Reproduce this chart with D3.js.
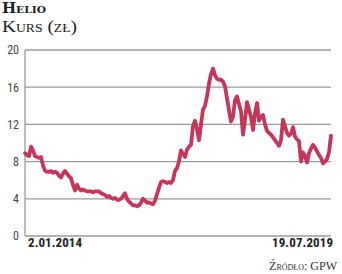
<!DOCTYPE html>
<html><head><meta charset="utf-8">
<script src="https://cdn.jsdelivr.net/npm/d3@7"></script>
<style>body{margin:0;background:#fff}svg{display:block}</style>
</head><body>
<script>
const title = "Helio";
const subtitle = "Kurs (zł)";
const source = "Źródło: GPW";
const startLabel = "2.01.2014";
const endLabel = "19.07.2019";
const yTicks = [0, 4, 8, 12, 16, 20];
const prices = [
8.9,8.7,8.6,9.6,9.2,8.6,8.5,8.4,8.5,7.6,7.0,6.9,6.9,7.0,6.8,6.9,6.8,6.5,6.3,6.7,
7.0,6.7,6.4,6.2,5.5,4.9,5.5,5.1,4.9,5.0,4.9,4.8,4.8,4.8,4.7,4.8,4.8,4.8,4.6,4.5,
4.4,4.2,4.3,4.1,4.0,4.1,3.9,3.9,4.0,4.3,4.6,4.0,3.7,3.5,3.3,3.3,3.2,3.3,3.6,4.0,
3.8,3.6,3.6,3.5,3.4,3.8,4.5,5.2,5.8,5.9,5.8,5.7,5.8,5.7,6.0,7.0,7.3,8.0,9.2,8.8,
8.5,9.3,9.6,9.8,11.8,12.4,11.5,10.3,12.0,13.6,14.0,15.0,16.4,17.4,18.0,17.3,16.9,16.8,16.8,16.6,
16.1,14.8,13.5,12.3,12.8,14.6,15.0,14.2,13.4,10.9,12.5,14.4,13.6,12.8,11.4,13.2,14.3,12.4,12.8,13.0,
12.0,11.3,11.1,10.9,10.6,10.3,10.0,9.7,10.3,12.5,11.8,11.1,10.8,11.0,11.7,10.7,10.4,10.2,8.0,9.0,
8.6,7.9,8.9,9.4,9.8,9.5,9.1,8.7,8.4,7.8,8.0,8.3,9.0,10.8
];

const W = 342, H = 274;
const svg = d3.select("body").append("svg").attr("width", W).attr("height", H);
const x = d3.scaleLinear().domain([0, prices.length - 1]).range([25, 331]);
const y = d3.scaleLinear().domain([0, 20]).range([236, 50]);

const serif = "'DejaVu Serif', serif";
svg.append("text").attr("x", 2).attr("y", 13)
  .style("font-family", serif).style("font-weight", "bold").style("font-size", "14px")
  .style("font-variant", "small-caps").attr("fill", "#222")
  .attr("textLength", 44).attr("lengthAdjust", "spacingAndGlyphs").text(title);
svg.append("text").attr("x", 2).attr("y", 31.5)
  .style("font-family", "'Liberation Serif', serif").style("font-size", "17px")
  .style("font-variant", "small-caps").attr("fill", "#222")
  .attr("textLength", 75).attr("lengthAdjust", "spacingAndGlyphs").text(subtitle);

const g = svg.append("g");
g.selectAll("line.grid").data(yTicks).enter().append("line")
  .attr("x1", 25).attr("x2", 331)
  .attr("y1", d => y(d)).attr("y2", d => y(d))
  .attr("stroke", "#9a9a9a").attr("stroke-width", 1.3);
g.append("line").attr("x1", 25).attr("x2", 25).attr("y1", y(20)).attr("y2", y(0))
  .attr("stroke", "#9a9a9a").attr("stroke-width", 1.3);

const yAxis = d3.axisLeft(y).tickValues(yTicks).tickSize(0).tickPadding(6);
const ya = svg.append("g").attr("transform", "translate(25,0)").call(yAxis);
ya.select(".domain").remove();
ya.selectAll("text").style("font-family", "'Roboto Condensed','Liberation Sans Narrow','Roboto',sans-serif")
  .style("font-size", "12px").attr("fill", "#444");

const line = d3.line().x((d, i) => x(i)).y(d => y(d)).curve(d3.curveLinear);
svg.append("path").datum(prices).attr("d", line)
  .attr("fill", "none").attr("stroke", "#c4365a").attr("stroke-width", 3.8)
  .attr("stroke-linejoin", "round").attr("stroke-linecap", "round");

const lab = "'Roboto Condensed','Liberation Sans Narrow',sans-serif";
svg.append("text").attr("x", 28).attr("y", 247)
  .style("font-family", lab).style("font-size", "13px").style("font-weight", "bold")
  .attr("fill", "#222").attr("textLength", 54).text(startLabel);
svg.append("text").attr("x", 333).attr("y", 247).attr("text-anchor", "end")
  .style("font-family", lab).style("font-size", "13px").style("font-weight", "bold")
  .attr("fill", "#222").attr("textLength", 61).text(endLabel);
svg.append("text").attr("x", 337).attr("y", 270).attr("text-anchor", "end")
  .style("font-family", "'Liberation Serif', serif").style("font-size", "12px")
  .style("font-variant", "small-caps").attr("fill", "#333").text(source);
</script>
</body></html>
